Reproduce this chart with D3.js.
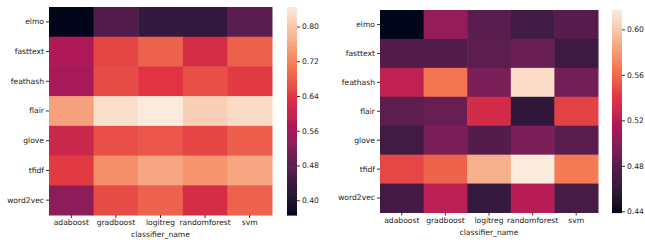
<!DOCTYPE html>
<meta charset="utf-8">
<style>
	body { margin: 0; background: #fff; }
	text { font-family: "DejaVu Sans", sans-serif; fill: #222; }
	.axis path { display: none; }
	.axis line { stroke: #333; }
</style>
<svg id="chart" width="645" height="240"></svg>
<script src="https://d3js.org/d3.v7.min.js"></script>
<script>
	var embeddings = ["elmo", "fasttext", "feathash", "flair", "glove", "tfidf", "word2vec"];
	var classifiers = ["adaboost", "gradboost", "logitreg", "randomforest", "svm"];

	// left panel values, one row per embedding
	var leftValues = [
		[0.366, 0.470, 0.432, 0.430, 0.478],
		[0.575, 0.655, 0.685, 0.625, 0.682],
		[0.565, 0.660, 0.640, 0.665, 0.645],
		[0.755, 0.830, 0.845, 0.810, 0.825],
		[0.610, 0.665, 0.672, 0.655, 0.680],
		[0.645, 0.735, 0.760, 0.740, 0.760],
		[0.535, 0.660, 0.685, 0.625, 0.685]
	];
	var leftTicks = [0.40, 0.48, 0.56, 0.64, 0.72, 0.80];

	// right panel values
	var rightValues = [
		[0.439, 0.505, 0.480, 0.470, 0.479],
		[0.477, 0.477, 0.482, 0.487, 0.468],
		[0.524, 0.566, 0.494, 0.610, 0.491],
		[0.482, 0.486, 0.534, 0.462, 0.545],
		[0.470, 0.494, 0.477, 0.494, 0.480],
		[0.547, 0.558, 0.590, 0.617, 0.568],
		[0.471, 0.522, 0.465, 0.520, 0.472]
	];
	var rightTicks = [0.44, 0.48, 0.52, 0.56, 0.60];

	// seaborn "rocket" colour stops
	var rocketStops = ["#03051a", "#35193e", "#701f57", "#ad1759", "#e13342", "#f37651", "#f6b48f", "#faebdd"];
	var rocket = d3.piecewise(d3.interpolateLab, rocketStops);

	var svg = d3.select("#chart");

	function drawPanel(values, ticks, box) {
		var flat = [].concat.apply([], values);
		var vmin = d3.min(flat), vmax = d3.max(flat);

		var x = d3.scaleBand().domain(classifiers).range([box.left, box.right]);
		var y = d3.scaleBand().domain(embeddings).range([box.top, box.bottom]);
		var color = d3.scaleSequential(rocket).domain([vmin, vmax]);

		var cells = [];
		values.forEach(function(row, i) {
			row.forEach(function(v, j) {
				cells.push({emb: embeddings[i], clf: classifiers[j], value: v});
			});
		});

		var g = svg.append("g");
		g.selectAll("rect")
			.data(cells)
			.enter().append("rect")
			.attr("x", function(d) { return x(d.clf); })
			.attr("y", function(d) { return y(d.emb); })
			.attr("width", x.bandwidth() + 0.5)
			.attr("height", y.bandwidth() + 0.5)
			.attr("fill", function(d) { return color(d.value); });

		g.append("g")
			.attr("class", "axis")
			.attr("transform", "translate(0," + box.bottom + ")")
			.call(d3.axisBottom(x).tickSize(3).tickPadding(2))
			.selectAll("text").style("font-size", "7.6px").attr("fill", "#222");

		g.append("g")
			.attr("class", "axis")
			.attr("transform", "translate(" + box.left + ",0)")
			.call(d3.axisLeft(y).tickSize(3).tickPadding(2))
			.selectAll("text").style("font-size", "7.6px").attr("fill", "#222");

		g.append("text")
			.attr("x", (box.left + box.right) / 2)
			.attr("y", box.bottom + 22)
			.attr("text-anchor", "middle")
			.style("font-size", "7.6px")
			.text("classifier_name");

		// colour bar
		var cb = d3.scaleLinear().domain([vmin, vmax]).range([box.bottom, box.top]);
		var steps = d3.range(0, 101).map(function(k) { return vmin + (vmax - vmin) * k / 100; });
		var cg = svg.append("g");
		cg.selectAll("rect")
			.data(steps.slice(0, -1))
			.enter().append("rect")
			.attr("x", box.cbLeft)
			.attr("y", function(d, k) { return cb(steps[k + 1]); })
			.attr("width", box.cbWidth)
			.attr("height", function(d, k) { return cb(steps[k]) - cb(steps[k + 1]) + 0.6; })
			.attr("fill", function(d, k) { return color((steps[k] + steps[k + 1]) / 2); });

		cg.append("g")
			.attr("class", "axis")
			.attr("transform", "translate(" + (box.cbLeft + box.cbWidth) + ",0)")
			.call(d3.axisRight(cb).tickValues(ticks).tickFormat(d3.format(".2f")).tickSize(3).tickPadding(2))
			.selectAll("text").style("font-size", "7.6px").attr("fill", "#222");
	}

	drawPanel(leftValues, leftTicks, {left: 49, right: 272, top: 7, bottom: 215, cbLeft: 287, cbWidth: 10});
	drawPanel(rightValues, rightTicks, {left: 380, right: 598, top: 10, bottom: 212.5, cbLeft: 612, cbWidth: 10});
</script>
